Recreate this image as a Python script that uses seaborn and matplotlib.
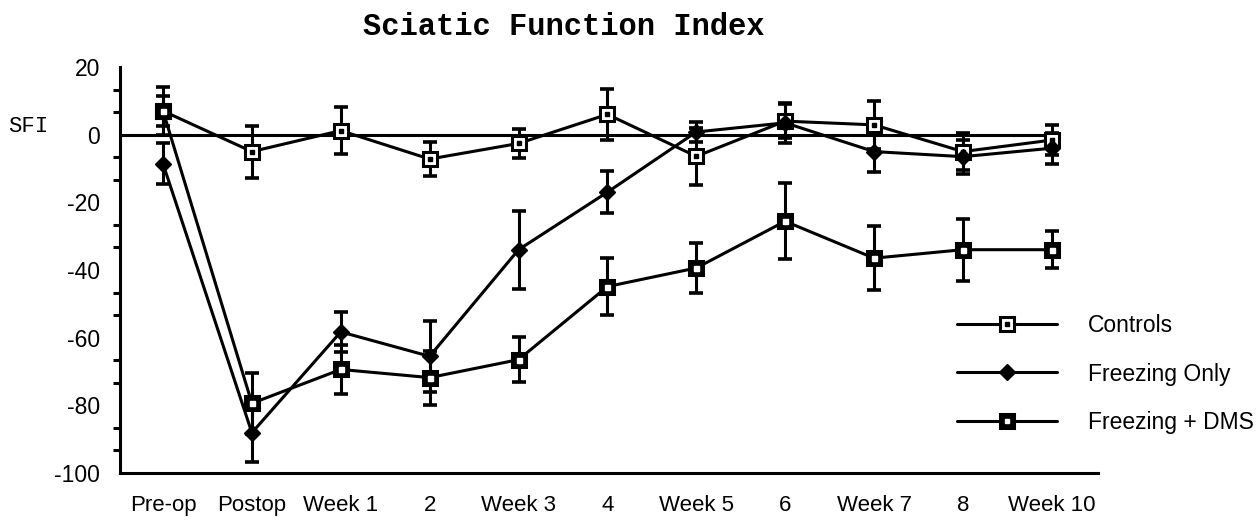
import numpy as np
import pandas as pd
import matplotlib
matplotlib.use("Agg")
import matplotlib.pyplot as plt
import seaborn as sns
from matplotlib.lines import Line2D
from matplotlib.ticker import MultipleLocator

# ---------------- data ----------------
labels = ["Pre-op", "Postop", "Week 1", "2", "Week 3", "4",
          "Week 5", "6", "Week 7", "8", "Week 10"]
controls = [7.0, -5.0, 1.2, -7.2, -2.6, 6.0, -6.4, 4.0, 2.9, -5.0, -1.6]
controls_err = [7.0, 7.7, 7.0, 5.0, 4.3, 7.5, 8.4, 5.0, 7.0, 5.5, 4.5]
freezing = [-8.6, -88.1, -58.3, -65.5, -34.0, -17.0, 0.8, 3.5, -5.0, -6.5, -4.0]
freezing_err = [6.0, 8.6, 6.0, 10.5, 11.5, 6.2, 3.0, 6.0, 6.0, 5.0, 4.6]
dms = [7.0, -79.4, -69.4, -71.8, -66.5, -44.9, -39.4, -25.6, -36.5, -34.0, -34.0]
dms_err = [4.3, 9.1, 7.2, 8.0, 6.7, 8.3, 7.3, 11.2, 9.4, 9.2, 5.5]
groups = ["Controls", "Freezing Only", "Freezing + DMS"]

x = np.arange(len(labels))
series = {"Controls": (controls, controls_err),
          "Freezing Only": (freezing, freezing_err),
          "Freezing + DMS": (dms, dms_err)}
df = pd.concat([pd.DataFrame({"x": x, "value": v, "err": e, "group": g})
                for g, (v, e) in series.items()], ignore_index=True)

# ---------------- style ----------------
sns.set_theme(style="white")
plt.rcParams["font.family"] = ["Liberation Sans", "DejaVu Sans"]
plt.rcParams["text.color"] = "black"
plt.rcParams["axes.unicode_minus"] = False

W, H = 1259, 521
fig = plt.figure(figsize=(W / 100, H / 100), dpi=100)
ax = fig.add_axes([120 / W, 1 - 473 / H, (1098 - 120) / W, (473 - 67) / H])

LW = 2.2
ax.set_xlim(-0.484, 10.52)
ax.set_ylim(-100, 20)

# zero reference line
ax.hlines(0, -0.484, 10.05, color="black", lw=LW, zorder=1)

# lines
sns.lineplot(data=df, x="x", y="value", hue="group", units="group",
             estimator=None, palette={g: "black" for g in groups},
             linewidth=LW, legend=False, ax=ax, zorder=3)

# error bars
for g in groups:
    sub = df[df.group == g]
    ax.errorbar(sub.x, sub.value, yerr=sub.err, fmt="none", ecolor="black",
                elinewidth=LW, capsize=4.8, capthick=2.6, zorder=2)

# markers
sq = dict(ls="none", marker="s", ms=9.5, mew=2.2, mec="black", zorder=4)
sub = df[df.group == "Controls"]
ax.plot(sub.x, sub.value, mfc="white", **sq)
ax.plot(sub.x, sub.value, ls="none", marker="s", ms=2.4, color="black", zorder=5)
sub = df[df.group == "Freezing + DMS"]
ax.plot(sub.x, sub.value, mfc="black", **sq)
ax.plot(sub.x, sub.value, ls="none", marker="s", ms=3.6, color="white", zorder=5)
sub = df[df.group == "Freezing Only"]
ax.plot(sub.x, sub.value, ls="none", marker="D", ms=8.5, color="black", zorder=4)

# axes
for s in ["top", "right"]:
    ax.spines[s].set_visible(False)
for s in ["left", "bottom"]:
    ax.spines[s].set_color("black")
    ax.spines[s].set_linewidth(LW)
ax.set_xticks(x)
ax.set_xticklabels(labels)
ax.set_yticks(np.arange(-100, 21, 20))
ax.yaxis.set_minor_locator(MultipleLocator(20 / 3))
ax.tick_params(axis="both", which="major", direction="out", length=8.5,
               width=LW, color="black", labelcolor="black")
ax.tick_params(axis="y", which="minor", direction="out", length=5,
               width=LW, color="black", left=True)
ax.tick_params(axis="x", labelsize=16, pad=7)
ax.tick_params(axis="y", labelsize=16.5, pad=6)
ax.set_xlabel("")
ax.set_ylabel("")

# title and axis label
fig.text(564 / W, 1 - 27 / H, "Sciatic Function Index", ha="center", va="center",
         family="Liberation Mono", weight="bold", size=22, color="black")
fig.text(8 / W, 1 - 127 / H, "SFI", ha="left", va="center",
         family="Liberation Mono", size=16, color="black")

# legend
h_ctrl = (Line2D([], [], color="black", lw=LW, marker="s", ms=9.5, mew=2.2,
                 mec="black", mfc="white"),
          Line2D([], [], ls="none", marker="s", ms=2.4, color="black"))
h_fo = Line2D([], [], color="black", lw=LW, marker="D", ms=8.5)
h_dms = (Line2D([], [], color="black", lw=LW, marker="s", ms=9.5, mew=2.2,
                mec="black", mfc="black"),
         Line2D([], [], ls="none", marker="s", ms=3.0, color="white"))
leg = fig.legend([h_ctrl, h_fo, h_dms], groups, loc="center left",
                 bbox_to_anchor=(957 / W, 1 - 374 / H), frameon=False,
                 borderpad=0, borderaxespad=0, handlelength=4.37,
                 handletextpad=1.35, labelspacing=1.1, fontsize=16.5,
                 numpoints=1)
for t in leg.get_texts():
    t.set_color("black")

fig.savefig("out.png", dpi=100)
